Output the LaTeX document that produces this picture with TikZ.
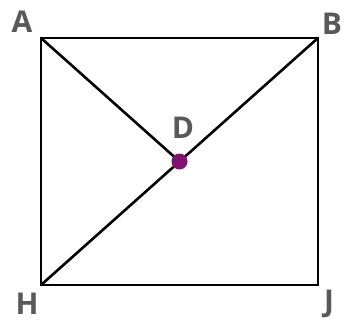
\documentclass[tikz,border=0pt]{standalone}
\usepackage{fontspec}
\setmainfont{Open Sans}
\definecolor{lbl}{HTML}{595959}
\definecolor{dotc}{HTML}{7F1170}
\begin{document}
\begin{tikzpicture}[x=1pt,y=-1pt,
  lab/.style={text=lbl,font=\fontsize{30}{30}\selectfont\bfseries,inner sep=0pt},
  edge/.style={line width=2.6pt,line join=miter}]
\useasboundingbox (0,0) rectangle (345,321);
\coordinate (a) at (41,38);
\coordinate (b) at (318,38);
\coordinate (j) at (318,285);
\coordinate (h) at (41,285);
\coordinate (d) at (179.5,161.5);
\draw[edge] (a) -- (b) -- (j) -- (h) -- cycle;
\draw[edge] (a) -- (d);
\draw[edge] (h) -- (b);
\fill[dotc] (d) circle (8);
\node[lab] (la) at (22,22) {A};
\node[lab] (lb) at (332,24) {B};
\node[lab] (ld) at (183,128) {D};
\node[lab] (lh) at (27,304) {H};
\node[lab] (lj) at (329,304) {J};
\end{tikzpicture}
\end{document}
